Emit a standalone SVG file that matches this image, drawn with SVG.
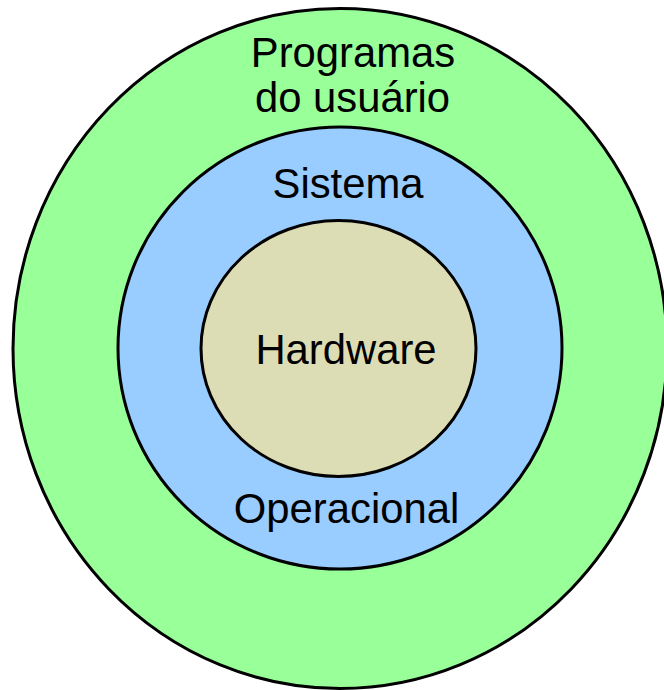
<svg xmlns="http://www.w3.org/2000/svg" width="664" height="690" viewBox="0 0 664 690">
  <style>
    .ring { stroke: #000000; stroke-width: 3; }
    .label { font-family: "Liberation Sans", Arial, sans-serif; font-size: 41.8px; fill: #000000; text-anchor: middle; }
  </style>
  <rect width="664" height="690" fill="#ffffff"/>
  <!-- outermost layer: user programs -->
  <g id="programas">
    <ellipse class="ring" cx="340" cy="348.5" rx="327" ry="340" fill="#99FF99"/>
    <text class="label" x="353" y="67">Programas</text>
    <text class="label" x="352.5" y="112">do usuário</text>
  </g>
  <!-- middle layer: operating system -->
  <g id="sistema">
    <ellipse class="ring" cx="340" cy="348" rx="222" ry="221" fill="#99CCFF"/>
    <text class="label" x="348" y="198">Sistema</text>
    <text class="label" x="346.5" y="523">Operacional</text>
  </g>
  <!-- core: hardware -->
  <g id="hardware">
    <ellipse class="ring" cx="338.5" cy="348.5" rx="137.5" ry="128" fill="#DDDDB5"/>
    <text class="label" x="346" y="364">Hardware</text>
  </g>
  <g id="connectors"/>
</svg>
